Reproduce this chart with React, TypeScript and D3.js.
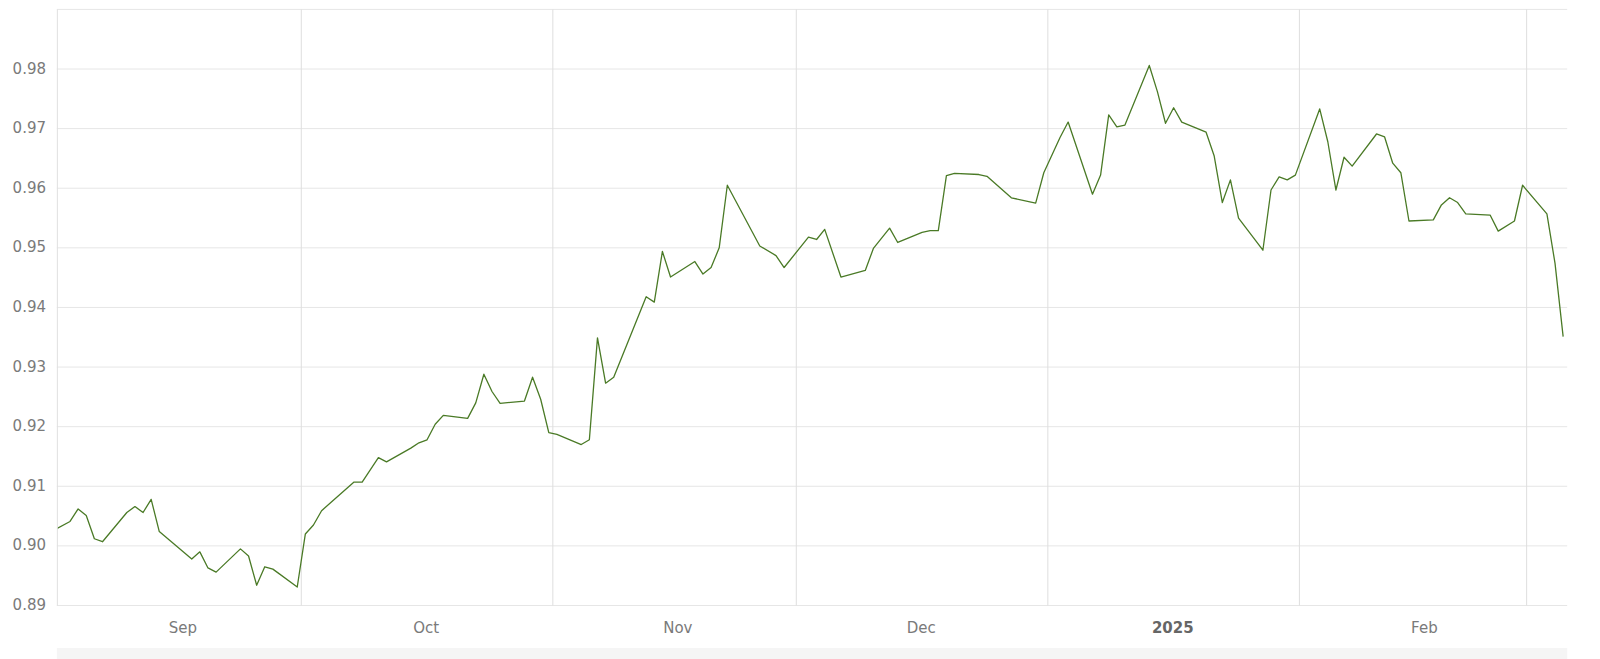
import React from "react";
import * as d3 from "d3";

// ---- data (USD → EUR daily rate) ----
const dates: string[] = [
  "2024-08-30", "2024-09-02", "2024-09-03", "2024-09-04", "2024-09-05", "2024-09-06",
  "2024-09-09", "2024-09-10", "2024-09-11", "2024-09-12", "2024-09-13",
  "2024-09-17", "2024-09-18", "2024-09-19", "2024-09-20",
  "2024-09-23", "2024-09-24", "2024-09-25", "2024-09-26", "2024-09-27",
  "2024-09-30", "2024-10-01", "2024-10-02", "2024-10-03", "2024-10-04",
  "2024-10-07", "2024-10-08", "2024-10-10", "2024-10-11",
  "2024-10-14", "2024-10-15", "2024-10-16", "2024-10-17", "2024-10-18",
  "2024-10-21", "2024-10-22", "2024-10-23", "2024-10-24", "2024-10-25",
  "2024-10-28", "2024-10-29", "2024-10-30", "2024-10-31", "2024-11-01",
  "2024-11-04", "2024-11-05", "2024-11-06", "2024-11-07", "2024-11-08",
  "2024-11-12", "2024-11-13", "2024-11-14", "2024-11-15",
  "2024-11-18", "2024-11-19", "2024-11-20", "2024-11-21", "2024-11-22",
  "2024-11-26", "2024-11-28", "2024-11-29",
  "2024-12-02", "2024-12-03", "2024-12-04", "2024-12-06",
  "2024-12-09", "2024-12-10", "2024-12-12", "2024-12-13",
  "2024-12-16", "2024-12-17", "2024-12-18", "2024-12-19", "2024-12-20",
  "2024-12-23", "2024-12-24", "2024-12-27",
  "2024-12-30", "2024-12-31", "2025-01-02", "2025-01-03",
  "2025-01-06", "2025-01-07", "2025-01-08", "2025-01-09", "2025-01-10",
  "2025-01-13", "2025-01-14", "2025-01-15", "2025-01-16", "2025-01-17",
  "2025-01-20", "2025-01-21", "2025-01-22", "2025-01-23", "2025-01-24",
  "2025-01-27", "2025-01-28", "2025-01-29", "2025-01-30", "2025-01-31",
  "2025-02-03", "2025-02-04", "2025-02-05", "2025-02-06", "2025-02-07",
  "2025-02-10", "2025-02-11", "2025-02-12", "2025-02-13", "2025-02-14",
  "2025-02-17", "2025-02-18", "2025-02-19", "2025-02-20", "2025-02-21",
  "2025-02-24", "2025-02-25", "2025-02-27", "2025-02-28",
  "2025-03-03", "2025-03-04", "2025-03-05",
];

const rates: number[] = [
  0.9019, 0.9041, 0.9062, 0.9051, 0.9012, 0.9007,
  0.9056, 0.9066, 0.9056, 0.9078, 0.9024,
  0.8978, 0.8990, 0.8963, 0.8956,
  0.8995, 0.8983, 0.8934, 0.8965, 0.8961,
  0.8931, 0.9020, 0.9035, 0.9059, 0.9071,
  0.9107, 0.9107, 0.9148, 0.9141,
  0.9164, 0.9173, 0.9178, 0.9204, 0.9219,
  0.9214, 0.9240, 0.9288, 0.9259, 0.9239,
  0.9243, 0.9283, 0.9246, 0.9190, 0.9187,
  0.9170, 0.9178, 0.9349, 0.9273, 0.9283,
  0.9418, 0.9409, 0.9494, 0.9451,
  0.9477, 0.9456, 0.9467, 0.9500, 0.9605,
  0.9503, 0.9487, 0.9467,
  0.9518, 0.9514, 0.9531, 0.9451,
  0.9462, 0.9499, 0.9533, 0.9509,
  0.9526, 0.9529, 0.9529, 0.9621, 0.9625,
  0.9623, 0.9620, 0.9584,
  0.9575, 0.9626, 0.9685, 0.9711,
  0.9590, 0.9622, 0.9723, 0.9703, 0.9706,
  0.9806, 0.9762, 0.9709, 0.9735, 0.9711,
  0.9694, 0.9654, 0.9576, 0.9614, 0.9550,
  0.9496, 0.9597, 0.9619, 0.9614, 0.9622,
  0.9733, 0.9678, 0.9597, 0.9652, 0.9637,
  0.9691, 0.9686, 0.9642, 0.9626, 0.9545,
  0.9547, 0.9572, 0.9584, 0.9576, 0.9557,
  0.9555, 0.9528, 0.9545, 0.9605,
  0.9557, 0.9474, 0.9351,
];

const xDomain: string[] = ["2024-09-01", "2025-03-06"];
const yDomain: number[] = [0.89, 0.99];
const yTicks: number[] = [0.89, 0.9, 0.91, 0.92, 0.93, 0.94, 0.95, 0.96, 0.97, 0.98, 0.99];
const yLabelTicks: number[] = [0.89, 0.9, 0.91, 0.92, 0.93, 0.94, 0.95, 0.96, 0.97, 0.98];
const gridMonths: string[] = ["2024-10-01", "2024-11-01", "2024-12-01", "2025-01-01", "2025-02-01", "2025-03-01"];
const labelMonths: string[] = ["2024-09-01", "2024-10-01", "2024-11-01", "2024-12-01", "2025-01-01", "2025-02-01"];
const monthLabels: string[] = ["Sep", "Oct", "Nov", "Dec", "2025", "Feb"];
const boldLabels: boolean[] = [false, false, false, false, true, false];

const W = 1600;
const H = 659;
const left = 57.85;
const right = 1567.2;
const top = 9.4;
const bottom = 605.5;
const FONT = "'DejaVu Sans', Verdana, sans-serif";
const DAY = 864e5;

export default function App() {
  const parse = d3.utcParse("%Y-%m-%d");
  const x = d3
    .scaleUtc()
    .domain([parse(xDomain[0])!, parse(xDomain[1])!])
    .range([left, right]);
  const y = d3.scaleLinear().domain(yDomain).range([bottom, top]);

  const pts = dates.map((d, i) => ({ t: new Date(+parse(d)! + DAY / 2), v: rates[i] }));
  const line = d3
    .line<{ t: Date; v: number }>()
    .x((d) => x(d.t))
    .y((d) => y(d.v));

  return (
    <svg
      width={W}
      height={H}
      style={{ position: "absolute", left: 0, top: 0, background: "#fff" }}
      fontFamily={FONT}
    >
      <defs>
        <clipPath id="plotclip">
          <rect x={left} y={top - 2} width={right - left} height={bottom - top + 4} />
        </clipPath>
      </defs>
      {/* horizontal grid */}
      {yTicks.map((t) => (
        <line
          key={"h" + t}
          x1={left - 1}
          x2={right}
          y1={y(t)}
          y2={y(t)}
          stroke="#e6e6e6"
          strokeWidth={1}
        />
      ))}
      {/* left edge */}
      <line x1={left - 0.5} x2={left - 0.5} y1={top} y2={bottom} stroke="#e0e0e0" strokeWidth={1} />
      {/* vertical month grid */}
      {gridMonths.map((m) => {
        const gx = x(parse(m)!);
        return (
          <line key={"v" + m} x1={gx} x2={gx} y1={top} y2={bottom} stroke="#dedede" strokeWidth={1} />
        );
      })}
      {/* y labels */}
      {yLabelTicks.map((t) => (
        <text
          key={"yl" + t}
          x={46}
          y={y(t)}
          textAnchor="end"
          dominantBaseline="middle"
          fontSize={15}
          fill="#7a7a7a"
        >
          {d3.format(".2f")(t)}
        </text>
      ))}
      {/* x labels */}
      {labelMonths.map((m, i) => {
        const lx = x(new Date(+parse(m)! + 15.4 * DAY));
        return (
          <text
            key={"xl" + m}
            x={lx}
            y={633}
            textAnchor="middle"
            fontSize={15}
            fontWeight={boldLabels[i] ? "bold" : "normal"}
            fill={boldLabels[i] ? "#666" : "#7a7a7a"}
          >
            {monthLabels[i]}
          </text>
        );
      })}
      {/* series line */}
      <path
        d={line(pts) || ""}
        fill="none"
        stroke="#4a7a26"
        strokeWidth={1.3}
        strokeLinejoin="round"
        clipPath="url(#plotclip)"
      />
      {/* bottom scrollbar band */}
      <rect x={left - 1} y={648} width={right - left + 1} height={11} fill="#f5f5f5" />
    </svg>
  );
}
